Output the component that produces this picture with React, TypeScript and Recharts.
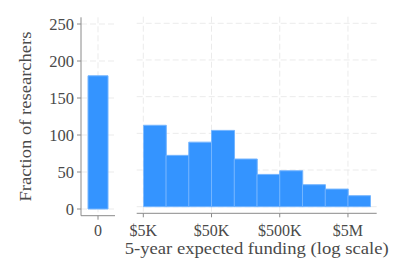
import React from 'react';
import { BarChart, Bar, XAxis, YAxis, CartesianGrid } from 'recharts';

// ---- data ----
const zeroCategories = ['0'];
const zeroCounts = [180];

// histogram bins on a log scale (3 bins per decade), edges in dollars
const binEdges = [5000, 10772, 23208, 50000, 107722, 232079, 500000, 1077217, 2320794, 5000000, 10772173];
const binCounts = [111, 70, 88, 104, 65, 44, 49, 30, 24, 15];

const xTickValues = [5000, 50000, 500000, 5000000];
const xTickLabels = ['$5K', '$50K', '$500K', '$5M'];
const yTicks = [0, 50, 100, 150, 200, 250];

const xTitle = '5-year expected funding (log scale)';
const yTitle = 'Fraction of researchers';

// ---- tables ----
const leftData = zeroCategories.map((c, i) => ({ cat: c, count: zeroCounts[i] }));
const rightData = binCounts.map((c, i) => ({
  x: (Math.log10(binEdges[i]) + Math.log10(binEdges[i + 1])) / 2,
  count: c,
}));
const logStart = Math.log10(binEdges[0]);
const logEnd = Math.log10(binEdges[binEdges.length - 1]);
const logTicks = xTickValues.map((v) => Math.log10(v));

// ---- styles ----
const FONT = '"Liberation Serif", "Times New Roman", serif';
const TEXT = '#4a4a4a';
const AXIS = '#8a8a8a';
const GRID = '#ebebeb';
const BAR = '#3494ff';
const BAR_EDGE = '#74b5ff';
const tickStyle = { fontFamily: FONT, fontSize: 16, fill: TEXT };

const YTitle = (props: any) => {
  const vb = props.viewBox || {};
  const cx = 31;
  const cy = vb.y + vb.height / 2;
  return (
    <text
      x={cx}
      y={cy}
      transform={`rotate(-90, ${cx}, ${cy})`}
      textAnchor="middle"
      fontFamily={FONT}
      fontSize={17}
      fill={TEXT}
      textLength={170}
      lengthAdjust="spacingAndGlyphs"
    >
      {yTitle}
    </text>
  );
};

const XTitle = (props: any) => {
  const vb = props.viewBox || {};
  const cx = vb.x + vb.width / 2;
  const cy = vb.y + 40.5;
  return (
    <text
      x={cx}
      y={cy}
      textAnchor="middle"
      fontFamily={FONT}
      fontSize={16.5}
      fill={TEXT}
      textLength={264}
      lengthAdjust="spacingAndGlyphs"
    >
      {xTitle}
    </text>
  );
};

export default function App() {
  return (
    <div style={{ position: 'absolute', left: 0, top: 0, width: 395, height: 279, background: '#fff' }}>
      <div style={{ position: 'absolute', left: 0, top: 0 }}>
        <BarChart
          width={130}
          height={279}
          data={leftData}
          margin={{ top: 17.3, right: 15, bottom: 33.3, left: 0 }}
        >
          <CartesianGrid stroke={GRID} strokeDasharray="6 3" syncWithTicks />
          <XAxis
            dataKey="cat"
            type="category"
            height={30}
            stroke={AXIS}
            tickSize={4}
            tickMargin={5}
            tick={tickStyle}
          />
          <YAxis
            type="number"
            domain={[0, 250]}
            ticks={yTicks}
            width={81}
            padding={{ top: 6.7, bottom: 6.7 }}
            stroke={AXIS}
            tickSize={4}
            tickMargin={3}
            tick={{ ...tickStyle, fontSize: 16.5 }}
            label={{ content: YTitle }}
          />
          <Bar dataKey="count" fill={BAR} stroke={BAR_EDGE} strokeWidth={1} barSize={20} isAnimationActive={false} />
        </BarChart>
      </div>
      <div style={{ position: 'absolute', left: 120, top: 0 }}>
        <BarChart
          width={275}
          height={279}
          data={rightData}
          barCategoryGap={0}
          barGap={0}
          margin={{ top: 16.7, right: 18.3, bottom: 35.7, left: 16.7 }}
        >
          <CartesianGrid stroke={GRID} strokeDasharray="6 3" syncWithTicks />
          <XAxis
            dataKey="x"
            type="number"
            scale="linear"
            domain={[logStart, logEnd]}
            ticks={logTicks}
            interval={0}
            allowDataOverflow
            padding={{ left: 6.6, right: 6 }}
            height={30}
            stroke={AXIS}
            tickSize={4}
            tickMargin={7}
            tick={tickStyle}
            tickFormatter={(v: number) => {
              const i = logTicks.findIndex((t) => Math.abs(t - v) < 1e-6);
              return i >= 0 ? xTickLabels[i] : '';
            }}
            label={{ content: XTitle }}
          />
          <YAxis type="number" domain={[0, 250]} ticks={yTicks} hide padding={{ top: 6.6, bottom: 6.6 }} />
          <Bar dataKey="count" fill={BAR} stroke={BAR_EDGE} strokeWidth={1} isAnimationActive={false} />
        </BarChart>
      </div>
    </div>
  );
}
